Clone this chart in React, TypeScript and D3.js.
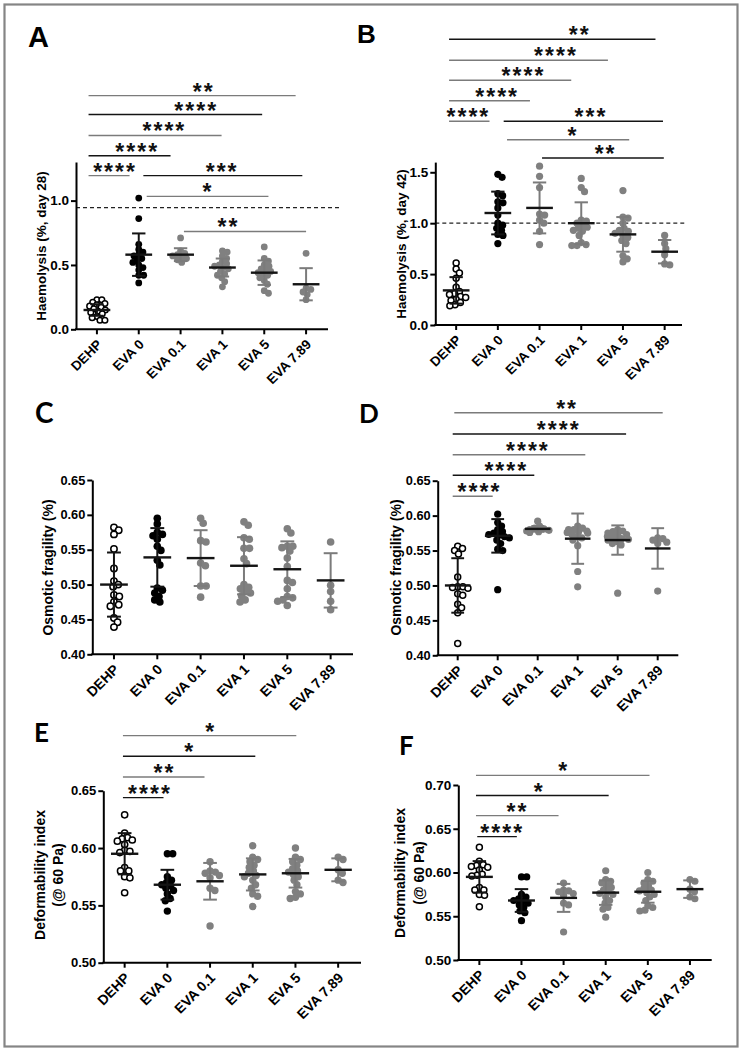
import React, { useRef, useEffect } from 'react';
import * as d3 from 'd3';

const groups = ['DEHP', 'EVA 0', 'EVA 0.1', 'EVA 1', 'EVA 5', 'EVA 7.89'];

// Haemolysis day 28
const haemo28Points = [
  [0.23, 0.23, 0.21, 0.2, 0.19, 0.18, 0.17, 0.16, 0.15, 0.14, 0.13, 0.12, 0.1, 0.09, 0.07, 0.07],
  [1.02, 0.86, 0.66, 0.62, 0.6, 0.58, 0.57, 0.55, 0.54, 0.52, 0.5, 0.48, 0.46, 0.42, 0.42, 0.36],
  [0.71, 0.61, 0.59, 0.58, 0.57, 0.56, 0.55, 0.54, 0.52],
  [0.61, 0.6, 0.57, 0.55, 0.53, 0.51, 0.5, 0.49, 0.48, 0.47, 0.45, 0.43, 0.42, 0.4, 0.37, 0.33],
  [0.64, 0.55, 0.53, 0.5, 0.49, 0.47, 0.46, 0.45, 0.44, 0.43, 0.42, 0.4, 0.38, 0.35, 0.3, 0.28],
  [0.59, 0.32, 0.31, 0.29, 0.27, 0.23],
];
const haemo28Mean = [0.15, 0.58, 0.58, 0.48, 0.44, 0.35];
const haemo28Sd = [0.045, 0.165, 0.05, 0.07, 0.095, 0.125];

// Haemolysis day 42
const haemo42Points = [
  [0.61, 0.55, 0.51, 0.46, 0.37, 0.33, 0.31, 0.3, 0.28, 0.27, 0.25, 0.24, 0.22, 0.2, 0.19],
  [1.48, 1.45, 1.29, 1.27, 1.21, 1.2, 1.15, 1.08, 1.0, 0.98, 0.95, 0.93, 0.89, 0.88, 0.8],
  [1.56, 1.46, 1.35, 1.09, 1.08, 1.03, 1.0, 0.92, 0.79],
  [1.44, 1.35, 1.31, 1.03, 1.02, 1.0, 0.98, 0.96, 0.95, 0.93, 0.92, 0.88, 0.81, 0.79, 0.78, 0.78],
  [1.32, 1.06, 1.05, 1.0, 0.95, 0.93, 0.92, 0.9, 0.88, 0.86, 0.83, 0.8, 0.68, 0.65, 0.62],
  [0.88, 0.8, 0.75, 0.69, 0.6, 0.59],
];
const haemo42Mean = [0.34, 1.1, 1.15, 1.0, 0.89, 0.72];
const haemo42Sd = [0.13, 0.21, 0.25, 0.205, 0.17, 0.115];

// Osmotic fragility (C)
const fragilityCPoints = [
  [0.582, 0.578, 0.572, 0.551, 0.523, 0.505, 0.5, 0.497, 0.485, 0.483, 0.475, 0.471, 0.469, 0.452, 0.446, 0.439],
  [0.595, 0.587, 0.575, 0.572, 0.57, 0.565, 0.555, 0.549, 0.535, 0.528, 0.495, 0.492, 0.488, 0.483, 0.478, 0.475],
  [0.595, 0.588, 0.563, 0.561, 0.531, 0.527, 0.498, 0.498, 0.482],
  [0.59, 0.585, 0.567, 0.565, 0.552, 0.552, 0.537, 0.53, 0.5, 0.496, 0.494, 0.49, 0.488, 0.484, 0.478, 0.475],
  [0.58, 0.574, 0.555, 0.555, 0.553, 0.548, 0.538, 0.526, 0.506, 0.503, 0.494, 0.483, 0.481, 0.478, 0.476, 0.47],
  [0.561, 0.499, 0.49, 0.476, 0.464],
];
const fragilityCMean = [0.5, 0.539, 0.538, 0.527, 0.522, 0.506];
const fragilityCSd = [0.046, 0.042, 0.04, 0.041, 0.04, 0.039];

// Osmotic fragility (D)
const fragilityDPoints = [
  [0.556, 0.553, 0.55, 0.545, 0.512, 0.498, 0.498, 0.497, 0.496, 0.488, 0.486, 0.473, 0.468, 0.461, 0.417],
  [0.602, 0.59, 0.585, 0.58, 0.577, 0.575, 0.573, 0.572, 0.57, 0.568, 0.565, 0.56, 0.552, 0.55, 0.494],
  [0.592, 0.585, 0.582, 0.581, 0.58, 0.579, 0.578, 0.577, 0.576],
  [0.585, 0.582, 0.58, 0.58, 0.578, 0.577, 0.576, 0.575, 0.573, 0.57, 0.568, 0.565, 0.557, 0.52, 0.498],
  [0.58, 0.578, 0.577, 0.575, 0.573, 0.572, 0.57, 0.569, 0.567, 0.566, 0.565, 0.563, 0.56, 0.558, 0.489],
  [0.568, 0.567, 0.565, 0.562, 0.56, 0.492],
];
const fragilityDMean = [0.5, 0.571, 0.581, 0.567, 0.565, 0.553];
const fragilityDSd = [0.039, 0.024, 0.004, 0.036, 0.021, 0.029];

// Deformability index (E and F show the same measurements)
const deformPoints = [
  [0.629, 0.613, 0.609, 0.608, 0.607, 0.606, 0.603, 0.598, 0.597, 0.596, 0.583, 0.58, 0.58, 0.575, 0.574, 0.561],
  [0.595, 0.595, 0.575, 0.572, 0.57, 0.568, 0.567, 0.565, 0.563, 0.56, 0.556, 0.554, 0.545],
  [0.588, 0.58, 0.579, 0.578, 0.576, 0.574, 0.565, 0.563, 0.532],
  [0.602, 0.592, 0.59, 0.588, 0.585, 0.583, 0.58, 0.578, 0.576, 0.575, 0.572, 0.568, 0.565, 0.56, 0.558, 0.549],
  [0.6, 0.592, 0.59, 0.588, 0.585, 0.582, 0.58, 0.579, 0.577, 0.575, 0.572, 0.568, 0.562, 0.56, 0.557, 0.556],
  [0.592, 0.59, 0.581, 0.578, 0.572, 0.57],
];
const deformMean = [0.595, 0.568, 0.571, 0.577, 0.578, 0.581];
const deformSd = [0.018, 0.013, 0.016, 0.014, 0.0125, 0.01];

// significance brackets: from / to / star position in group units, level in y units
interface Sig {
  from: number;
  to: number;
  at: number;
  level: number;
  stars: string;
}

const sigA: Sig[] = [
  { from: -0.2, to: 4.75, at: 2.53, level: 1.816, stars: '**' },
  { from: -0.2, to: 3.95, at: 2.35, level: 1.669, stars: '****' },
  { from: -0.2, to: 2.98, at: 1.59, level: 1.506, stars: '****' },
  { from: -0.2, to: 1.76, at: 0.94, level: 1.349, stars: '****' },
  { from: -0.2, to: 0.78, at: 0.41, level: 1.194, stars: '****' },
  { from: 1.11, to: 4.91, at: 2.97, level: 1.194, stars: '***' },
  { from: 1.19, to: 4.1, at: 2.63, level: 1.033, stars: '*' },
  { from: 2.08, to: 5.0, at: 3.12, level: 0.76, stars: '**' },
];
const sigB: Sig[] = [
  { from: -0.17, to: 4.78, at: 2.94, level: 2.806, stars: '**' },
  { from: -0.17, to: 3.64, at: 2.37, level: 2.6, stars: '****' },
  { from: -0.17, to: 2.76, at: 1.59, level: 2.404, stars: '****' },
  { from: -0.17, to: 1.77, at: 0.96, level: 2.203, stars: '****' },
  { from: -0.17, to: 0.8, at: 0.27, level: 2.001, stars: '****' },
  { from: 1.14, to: 4.96, at: 3.21, level: 2.001, stars: '***' },
  { from: 1.22, to: 4.15, at: 2.78, level: 1.82, stars: '*' },
  { from: 2.06, to: 4.98, at: 3.56, level: 1.64, stars: '**' },
];
const sigD: Sig[] = [
  { from: -0.085, to: 5.125, at: 2.71, level: 0.7474, stars: '**' },
  { from: -0.125, to: 4.21, at: 2.5, level: 0.7169, stars: '****' },
  { from: -0.125, to: 3.19, at: 1.73, level: 0.6872, stars: '****' },
  { from: -0.125, to: 1.915, at: 1.19, level: 0.6577, stars: '****' },
  { from: -0.125, to: 0.875, at: 0.52, level: 0.6277, stars: '****' },
];
const sigE: Sig[] = [
  { from: -0.04, to: 4.02, at: 1.99, level: 0.698, stars: '*' },
  { from: -0.04, to: 3.06, at: 1.5, level: 0.68, stars: '*' },
  { from: -0.04, to: 1.87, at: 0.91, level: 0.662, stars: '**' },
  { from: -0.04, to: 0.91, at: 0.57, level: 0.644, stars: '****' },
];
const sigF: Sig[] = [
  { from: -0.08, to: 4.04, at: 1.98, level: 0.711, stars: '*' },
  { from: -0.08, to: 3.07, at: 1.4, level: 0.688, stars: '*' },
  { from: -0.08, to: 1.88, at: 0.88, level: 0.665, stars: '**' },
  { from: -0.05, to: 0.89, at: 0.52, level: 0.641, stars: '****' },
];

const ticksHaemo28 = [0, 0.5, 1.0];
const ticksHaemo42 = [0, 0.5, 1.0, 1.5];
const ticksFragility = [0.4, 0.45, 0.5, 0.55, 0.6, 0.65];
const ticksDeformE = [0.5, 0.55, 0.6, 0.65];
const ticksDeformF = [0.5, 0.55, 0.6, 0.65, 0.7];

const INK = '#141414';
const GREY = '#7b7b7b';
const FONT = '"Liberation Sans", Arial, sans-serif';
const LETTER_FONT = 'Lato, "Open Sans", sans-serif';

interface Panel {
  label: string;
  labelX: number;
  labelY: number;
  labelFont: string;
  labelSize: number;
  points: number[][];
  mean: number[];
  sd: number[];
  sig: Sig[];
  sigTones: string[];
  domain: [number, number];
  yRange: [number, number];
  xRange: [number, number];
  axisEnd: number;
  ticks: number[];
  fmt: string;
  title: string[];
  titleX: number[];
  titleY: number;
  titleSize: number;
  tickSize: number;
  catSize: number;
  r: number;
  dashed?: number;
  dashTo?: number;
}

const panels: Panel[] = [
  {
    label: 'A', labelX: 28, labelY: 47, labelFont: FONT, labelSize: 29,
    points: haemo28Points, mean: haemo28Mean, sd: haemo28Sd, sig: sigA,
    sigTones: [GREY, INK, GREY, INK, GREY, INK, GREY, GREY],
    domain: [0, 1.3], yRange: [329.3, 162], xRange: [76, 327], axisEnd: 328,
    ticks: ticksHaemo28, fmt: '.1f',
    title: ['Haemolysis (%, day 28)'], titleX: [41], titleY: 246, titleSize: 13.5,
    tickSize: 13.5, catSize: 13.5, r: 3.4, dashed: 0.946, dashTo: 5.82,
  },
  {
    label: 'B', labelX: 357, labelY: 43, labelFont: FONT, labelSize: 26,
    points: haemo42Points, mean: haemo42Mean, sd: haemo42Sd, sig: sigB,
    sigTones: [INK, GREY, GREY, GREY, GREY, INK, GREY, INK],
    domain: [0, 1.6], yRange: [325, 162.1], xRange: [435.3, 685.5], axisEnd: 682,
    ticks: ticksHaemo42, fmt: '.1f',
    title: ['Haemolysis (%, day 42)'], titleX: [401], titleY: 244, titleSize: 13.5,
    tickSize: 13.5, catSize: 13.5, r: 3.6, dashed: 1.0, dashTo: 5.47,
  },
  {
    label: 'C', labelX: 35, labelY: 423, labelFont: LETTER_FONT, labelSize: 28,
    points: fragilityCPoints, mean: fragilityCMean, sd: fragilityCSd, sig: [],
    sigTones: [],
    domain: [0.4, 0.65], yRange: [654.3, 480], xRange: [92.3, 352.3], axisEnd: 353,
    ticks: ticksFragility, fmt: '.2f',
    title: ['Osmotic fragility (%)'], titleX: [48.3], titleY: 567.5, titleSize: 14,
    tickSize: 12.8, catSize: 14, r: 3.8,
  },
  {
    label: 'D', labelX: 359, labelY: 423, labelFont: LETTER_FONT, labelSize: 26,
    points: fragilityDPoints, mean: fragilityDMean, sd: fragilityDSd, sig: sigD,
    sigTones: [GREY, INK, GREY, INK, GREY],
    domain: [0.4, 0.65], yRange: [655.3, 480.7], xRange: [437.7, 677.7], axisEnd: 678.3,
    ticks: ticksFragility, fmt: '.2f',
    title: ['Osmotic fragility (%)'], titleX: [396], titleY: 567.5, titleSize: 14,
    tickSize: 12.8, catSize: 14, r: 3.6,
  },
  {
    label: 'E', labelX: 34, labelY: 742, labelFont: LETTER_FONT, labelSize: 26,
    points: deformPoints, mean: deformMean, sd: deformSd, sig: sigE,
    sigTones: [GREY, INK, GREY, INK],
    domain: [0.5, 0.65], yRange: [962.7, 790.7], xRange: [103.3, 359.5], axisEnd: 361,
    ticks: ticksDeformE, fmt: '.2f',
    title: ['Deformability index', '(@ 60 Pa)'], titleX: [40.3, 58.3], titleY: 875, titleSize: 14,
    tickSize: 13, catSize: 14, r: 3.7,
  },
  {
    label: 'F', labelX: 399, labelY: 755, labelFont: LETTER_FONT, labelSize: 26,
    points: deformPoints, mean: deformMean, sd: deformSd, sig: sigF,
    sigTones: [GREY, INK, GREY, INK],
    domain: [0.5, 0.7], yRange: [960, 785], xRange: [458.3, 711], axisEnd: 711.7,
    ticks: ticksDeformF, fmt: '.2f',
    title: ['Deformability index', '(@ 60 Pa)'], titleX: [400.5, 419], titleY: 873, titleSize: 14,
    tickSize: 13.5, catSize: 14, r: 3.6,
  },
];

// beeswarm with overlap allowed (like GraphPad scatter), clamped to a band
function swarm(ys: number[], d: number, maxOff: number): number[] {
  const order = ys.map((_, i) => i).sort((a, b) => ys[a] - ys[b]);
  const placed: { x: number; y: number }[] = [];
  const out = new Array(ys.length).fill(0);
  for (const i of order) {
    const yv = ys[i];
    const near = placed.filter((p) => Math.abs(p.y - yv) < d);
    const cands = [0];
    near.forEach((p) => {
      const dx = Math.sqrt(d * d - (p.y - yv) ** 2);
      cands.push(p.x + dx, p.x - dx);
    });
    cands.sort((a, b) => Math.abs(a) - Math.abs(b));
    const ok = cands.find((c) => near.every((p) => (p.x - c) ** 2 + (p.y - yv) ** 2 >= d * d - 0.01));
    let off = ok ?? 0;
    if (Math.abs(off) > maxOff) off = Math.sign(off) * (maxOff - ((Math.abs(off) - maxOff) % maxOff));
    out[i] = off;
    placed.push({ x: off, y: yv });
  }
  return out;
}

function drawPanel(svg: d3.Selection<SVGSVGElement, unknown, null, undefined>, p: Panel) {
  const y = d3.scaleLinear().domain(p.domain).range(p.yRange);
  const x = d3.scalePoint<string>().domain(groups).range(p.xRange).padding(0.5);
  const step = x.step();
  const x0 = x(groups[0])!;
  const xi = (i: number) => x0 + i * step;
  const left = p.xRange[0];
  const bottom = p.yRange[0];

  const g = svg.append('g');

  // panel letter
  g.append('text')
    .attr('x', p.labelX)
    .attr('y', p.labelY)
    .attr('font-family', p.labelFont)
    .attr('font-weight', 700)
    .attr('font-size', p.labelSize)
    .attr('fill', '#000')
    .text(p.label);

  // significance brackets
  p.sig.forEach((s, k) => {
    const yy = y(s.level);
    g.append('line')
      .attr('x1', xi(s.from))
      .attr('x2', xi(s.to))
      .attr('y1', yy)
      .attr('y2', yy)
      .attr('stroke', p.sigTones[k] ?? INK)
      .attr('stroke-width', 1.4);
    g.append('text')
      .attr('x', xi(s.at) + 1)
      .attr('y', yy + 4)
      .attr('text-anchor', 'middle')
      .attr('font-family', FONT)
      .attr('font-weight', 700)
      .attr('font-size', 23)
      .attr('letter-spacing', 2)
      .attr('fill', '#111')
      .text(s.stars);
  });

  // dashed reference line
  if (p.dashed !== undefined) {
    g.append('line')
      .attr('x1', left)
      .attr('x2', xi(p.dashTo ?? 5.5))
      .attr('y1', y(p.dashed))
      .attr('y2', y(p.dashed))
      .attr('stroke', '#222')
      .attr('stroke-width', 1.2)
      .attr('stroke-dasharray', '4,3');
  }

  // dots
  p.points.forEach((vals, gi) => {
    const cx = x(groups[gi])!;
    const ys = vals.map((v) => y(v));
    const offs = swarm(ys, p.r * 1.45, step * 0.3);
    const isOpen = gi === 0;
    const fill = gi === 0 ? '#fff' : gi === 1 ? '#000' : '#808080';
    g.append('g')
      .selectAll('circle')
      .data(vals)
      .enter()
      .append('circle')
      .attr('cx', (_, i) => cx + offs[i])
      .attr('cy', (_, i) => ys[i])
      .attr('r', isOpen ? p.r - 0.6 : p.r)
      .attr('fill', fill)
      .attr('stroke', isOpen ? '#000' : 'none')
      .attr('stroke-width', isOpen ? 1.5 : 0);
  });

  // mean +/- SD
  groups.forEach((name, gi) => {
    const cx = x(name)!;
    const m = p.mean[gi];
    const s = p.sd[gi];
    const tone = gi < 2 ? INK : GREY;
    const capW = step * 0.16;
    const meanW = step * 0.32;
    const eg = g.append('g').attr('stroke-width', 2);
    eg.append('line').attr('x1', cx).attr('x2', cx).attr('y1', y(m + s)).attr('y2', y(m - s)).attr('stroke', tone);
    [m + s, m - s].forEach((v) => {
      eg.append('line').attr('x1', cx - capW).attr('x2', cx + capW).attr('y1', y(v)).attr('y2', y(v)).attr('stroke', tone);
    });
    eg.append('line')
      .attr('x1', cx - meanW)
      .attr('x2', cx + meanW)
      .attr('y1', y(m))
      .attr('y2', y(m))
      .attr('stroke', INK)
      .attr('stroke-width', 2.4);
  });

  // y axis
  const yAxisG = g.append('g').attr('transform', `translate(${left},0)`);
  yAxisG.call(
    d3
      .axisLeft(y)
      .tickValues(p.ticks)
      .tickFormat((d) => d3.format(p.fmt)(d as number))
      .tickSize(5)
      .tickSizeOuter(0)
      .tickPadding(2)
  );
  yAxisG.select('.domain').attr('stroke', '#000').attr('stroke-width', 2);
  yAxisG.selectAll('.tick line').attr('stroke', '#000').attr('stroke-width', 2);
  yAxisG
    .selectAll('.tick text')
    .attr('font-family', FONT)
    .attr('font-weight', 700)
    .attr('font-size', p.tickSize)
    .attr('fill', '#000');

  // x axis
  g.append('line')
    .attr('x1', left - 1)
    .attr('x2', p.axisEnd)
    .attr('y1', bottom)
    .attr('y2', bottom)
    .attr('stroke', '#000')
    .attr('stroke-width', 2);
  groups.forEach((name) => {
    const cx = x(name)!;
    g.append('line')
      .attr('x1', cx)
      .attr('x2', cx)
      .attr('y1', bottom)
      .attr('y2', bottom + 5)
      .attr('stroke', '#000')
      .attr('stroke-width', 2);
    g.append('text')
      .attr('transform', `translate(${cx + 6},${bottom + 16}) rotate(-45)`)
      .attr('text-anchor', 'end')
      .attr('font-family', FONT)
      .attr('font-weight', 700)
      .attr('font-size', p.catSize)
      .attr('fill', '#000')
      .text(name);
  });

  // y title
  p.title.forEach((line, li) => {
    g.append('text')
      .attr('transform', `translate(${p.titleX[li]},${p.titleY}) rotate(-90)`)
      .attr('dy', '0.35em')
      .attr('text-anchor', 'middle')
      .attr('font-family', FONT)
      .attr('font-weight', 700)
      .attr('font-size', p.titleSize)
      .attr('fill', '#000')
      .text(line);
  });
}

const Chart: React.FC = () => {
  const svgRef = useRef<SVGSVGElement | null>(null);

  useEffect(() => {
    if (!svgRef.current) return;
    const svg = d3.select(svgRef.current);
    svg.selectAll('*').remove();

    svg.attr('width', 742).attr('height', 1049).style('background-color', '#fff');

    // frame
    svg
      .append('rect')
      .attr('x', 4.5)
      .attr('y', 4.5)
      .attr('width', 733)
      .attr('height', 1042)
      .attr('fill', 'none')
      .attr('stroke', '#858585')
      .attr('stroke-width', 2.2);

    panels.forEach((p) => drawPanel(svg, p));
  }, []);

  return <svg ref={svgRef} style={{ display: 'block' }} />;
};

export default function App() {
  return (
    <>
      <style>{'body{margin:0;background:#fff}'}</style>
      <Chart />
    </>
  );
}
